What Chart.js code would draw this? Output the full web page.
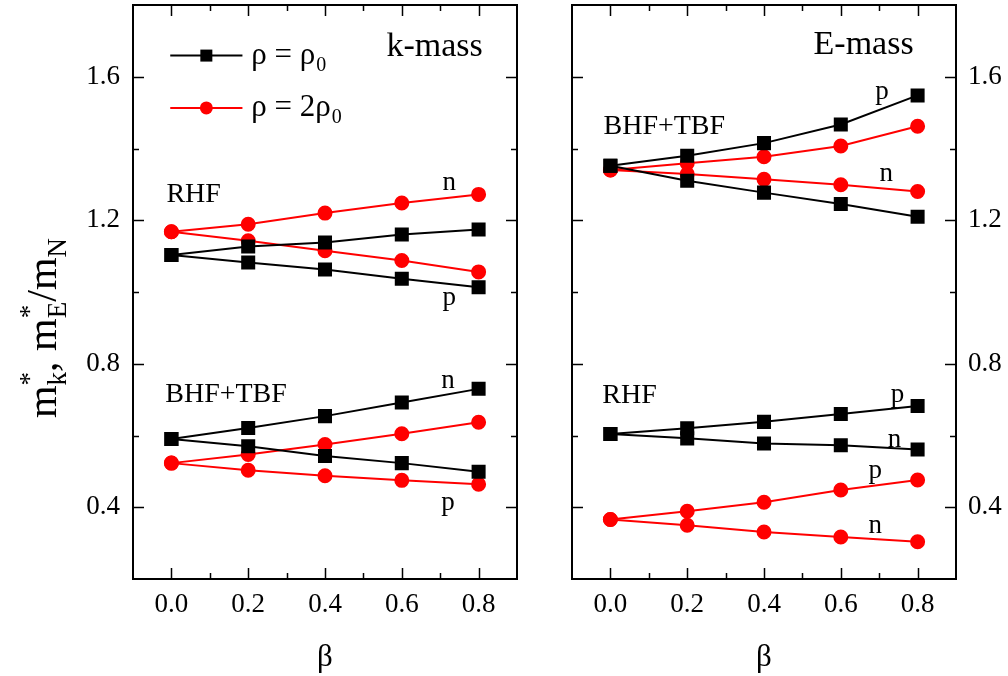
<!DOCTYPE html>
<html>
<head>
<meta charset="utf-8">
<script src="https://cdn.jsdelivr.net/npm/chart.js@4.4.1/dist/chart.umd.min.js"></script>
<style>
  html, body { margin: 0; padding: 0; background: #fff; }
  #wrap { position: relative; width: 1008px; height: 676px; }
  #kmass { position: absolute; left: 0; top: 0; }
  #emass { position: absolute; left: 520px; top: 0; }
</style>
</head>
<body>
<div id="wrap">
  <canvas id="kmass" width="520" height="676"></canvas>
  <canvas id="emass" width="488" height="676"></canvas>
</div>
<script>
// asymmetry parameter
const beta = [0.0, 0.2, 0.4, 0.6, 0.8]

// k-mass panel
const kRhfN1 = [1.103, 1.127, 1.138, 1.160, 1.174]
const kRhfP1 = [1.103, 1.082, 1.063, 1.037, 1.013]
const kRhfN2 = [1.168, 1.189, 1.220, 1.248, 1.272]
const kRhfP2 = [1.168, 1.143, 1.115, 1.088, 1.056]
const kBhfN1 = [0.590, 0.621, 0.654, 0.692, 0.730]
const kBhfP1 = [0.590, 0.570, 0.543, 0.523, 0.499]
const kBhfN2 = [0.523, 0.547, 0.575, 0.605, 0.637]
const kBhfP2 = [0.523, 0.503, 0.488, 0.475, 0.464]

// E-mass panel
const eBhfP1 = [1.352, 1.380, 1.415, 1.467, 1.548]
const eBhfN1 = [1.352, 1.310, 1.277, 1.245, 1.210]
const eBhfP2 = [1.340, 1.359, 1.377, 1.407, 1.462]
const eBhfN2 = [1.340, 1.329, 1.314, 1.299, 1.280]
const eRhfP1 = [0.604, 0.620, 0.638, 0.660, 0.682]
const eRhfN1 = [0.604, 0.592, 0.578, 0.573, 0.561]
const eRhfP2 = [0.366, 0.389, 0.414, 0.448, 0.476]
const eRhfN2 = [0.366, 0.350, 0.331, 0.317, 0.304]

const xTicks = ['0.0', '0.2', '0.4', '0.6', '0.8']
const yTicks = ['0.4', '0.8', '1.2', '1.6']

const SERIF = 'Liberation Serif'
Chart.defaults.font.family = SERIF
Chart.defaults.color = '#000'

const pts = arr => arr.map((v, i) => ({ x: beta[i], y: v }))

const black = arr => ({
  data: pts(arr), borderColor: '#000', backgroundColor: '#000',
  borderWidth: 2, pointStyle: 'rect', pointRadius: 8.5, pointHoverRadius: 8.5, tension: 0
})
const red = arr => ({
  data: pts(arr), borderColor: '#ff0000', backgroundColor: '#ff0000',
  borderWidth: 2, pointStyle: 'circle', pointRadius: 6.5, pointHoverRadius: 6.5, tension: 0
})

const font = size => size + 'px "' + SERIF + '"'

// frame, inward ticks, text labels, legend and y title
const deco = {
  id: 'deco',
  beforeDatasetsDraw(chart, args, opts) {
    const { ctx, chartArea: a, scales: { x, y } } = chart
    ctx.save()
    ctx.strokeStyle = '#000'
    ctx.lineWidth = 2
    ctx.strokeRect(a.left, a.top, a.right - a.left, a.bottom - a.top)
    ctx.lineWidth = 1.5
    ctx.beginPath()
    for (let k = 0; k <= 8; k++) {
      const px = Math.round(x.getPixelForValue(k / 10)) + 0.5
      const len = k % 2 === 0 ? 11 : 6
      ctx.moveTo(px, a.bottom); ctx.lineTo(px, a.bottom - len)
      ctx.moveTo(px, a.top); ctx.lineTo(px, a.top + len)
    }
    for (let k = 4; k <= 16; k += 2) {
      const py = Math.round(y.getPixelForValue(k / 10)) + 0.5
      const len = k % 4 === 0 ? 11 : 6
      ctx.moveTo(a.left, py); ctx.lineTo(a.left + len, py)
      ctx.moveTo(a.right, py); ctx.lineTo(a.right - len, py)
    }
    ctx.stroke()
    ctx.restore()
  },
  afterDatasetsDraw(chart, args, opts) {
    const { ctx, scales: { x, y } } = chart
    ctx.save()
    ctx.fillStyle = '#000'
    ctx.textBaseline = 'alphabetic'
    ctx.textAlign = 'left'
    opts.texts.forEach(t => {
      ctx.font = font(t.size)
      ctx.fillText(t.text, x.getPixelForValue(t.x), y.getPixelForValue(t.y))
    })

    if (opts.legend) {
      const rows = [
        { y: 1.659, color: '#000', style: 'rect', lbl: ['\u03c1 = \u03c1', '0'] },
        { y: 1.513, color: '#ff0000', style: 'circle', lbl: ['\u03c1 = 2\u03c1', '0'] }
      ]
      rows.forEach(r => {
        const x0 = x.getPixelForValue(-0.003), x1 = x.getPixelForValue(0.185)
        const py = y.getPixelForValue(r.y)
        ctx.strokeStyle = r.color
        ctx.fillStyle = r.color
        ctx.lineWidth = 2
        ctx.beginPath(); ctx.moveTo(x0, py); ctx.lineTo(x1, py); ctx.stroke()
        const mx = (x0 + x1) / 2
        if (r.style === 'rect') ctx.fillRect(mx - 6, py - 6, 12, 12)
        else { ctx.beginPath(); ctx.arc(mx, py, 6.5, 0, Math.PI * 2); ctx.fill() }
        ctx.fillStyle = '#000'
        const tx = x.getPixelForValue(0.208)
        ctx.font = font(31)
        ctx.fillText(r.lbl[0], tx, py + 8)
        const w = ctx.measureText(r.lbl[0]).width
        ctx.font = font(20)
        ctx.fillText(r.lbl[1], tx + w + 1, py + 15)
      })
    }

    if (opts.yTitle) {
      // m*_k, m*_E/m_N, written bottom to top
      const big = font(42), small = font(27)
      const parts = [
        { t: 'm' }, { sup: '*', sub: 'k' }, { t: ', ' },
        { t: 'm' }, { sup: '*', sub: 'E' }, { t: '/' },
        { t: 'm' }, { sub: 'N' }
      ]
      const widths = parts.map(p => {
        if (p.t) { ctx.font = big; return ctx.measureText(p.t).width }
        ctx.font = small
        return Math.max(p.sup ? ctx.measureText(p.sup).width : 0, ctx.measureText(p.sub).width)
      })
      const total = widths.reduce((s, w) => s + w, 0)
      ctx.translate(56, 328 + total / 2)
      ctx.rotate(-Math.PI / 2)
      let cx = 0
      parts.forEach((p, i) => {
        if (p.t) { ctx.font = big; ctx.fillText(p.t, cx, 0) }
        else {
          ctx.font = small
          if (p.sup) ctx.fillText(p.sup, cx, -18)
          ctx.fillText(p.sub, cx, 10)
        }
        cx += widths[i]
      })
    }
    ctx.restore()
  }
}

function makePanel(id, side, datasets, texts, extra) {
  const canvas = document.getElementById(id)
  const left = side === 'left'
  return new Chart(canvas.getContext('2d'), {
    type: 'line',
    data: { datasets },
    plugins: [deco],
    options: {
      responsive: false,
      animation: false,
      events: [],
      layout: {
        autoPadding: false,
        padding: left ? { left: 0, right: 3, top: 5, bottom: 0 } : { left: 52, right: 0, top: 5, bottom: 0 }
      },
      scales: {
        x: {
          type: 'linear', min: -0.1, max: 0.9,
          grid: { display: false, drawTicks: true, tickLength: 10 },
          border: { display: false },
          ticks: {
            stepSize: 0.1, autoSkip: false, maxRotation: 0, padding: 0,
            color: '#000', font: { family: SERIF, size: 27 },
            callback: v => {
              const k = Math.round(v * 10)
              return (k >= 0 && k <= 8 && k % 2 === 0) ? xTicks[k / 2] : ''
            }
          },
          title: { display: true, text: '\u03b2', color: '#000', font: { family: SERIF, size: 31 }, padding: { top: 0, bottom: 0 } },
          afterFit: s => { s.height = 97; s.paddingLeft = 0; s.paddingRight = 0 }
        },
        y: {
          type: 'linear', position: side, min: 0.2, max: 1.8,
          grid: { display: false, drawTicks: true, tickLength: left ? 13 : 12 },
          border: { display: false },
          ticks: {
            stepSize: 0.2, autoSkip: false, padding: 0,
            color: '#000', font: { family: SERIF, size: 27, lineHeight: 0.3 },
            callback: v => {
              const k = Math.round(v * 10)
              return k % 4 === 0 ? yTicks[k / 4 - 1] : ''
            }
          },
          afterFit: s => { s.width = left ? 133 : 52; s.paddingTop = 0; s.paddingBottom = 0 }
        }
      },
      plugins: {
        legend: { display: false },
        tooltip: { enabled: false },
        deco: Object.assign({ texts, legend: false, yTitle: false }, extra)
      }
    }
  })
}

makePanel('kmass', 'left',
  [black(kRhfN1), black(kRhfP1), black(kBhfN1), black(kBhfP1),
   red(kRhfN2), red(kRhfP2), red(kBhfN2), red(kBhfP2)],
  [
    { text: 'k-mass', x: 0.560, y: 1.659, size: 34 },
    { text: 'RHF', x: -0.013, y: 1.250, size: 28 },
    { text: 'n', x: 0.706, y: 1.285, size: 27 },
    { text: 'p', x: 0.706, y: 0.965, size: 27 },
    { text: 'BHF+TBF', x: -0.016, y: 0.692, size: 28 },
    { text: 'n', x: 0.703, y: 0.733, size: 27 },
    { text: 'p', x: 0.703, y: 0.392, size: 27 }
  ],
  { legend: true, yTitle: true })

makePanel('emass', 'right',
  [black(eBhfP1), black(eBhfN1), black(eRhfP1), black(eRhfN1),
   red(eBhfP2), red(eBhfN2), red(eRhfP2), red(eRhfN2)],
  [
    { text: 'E-mass', x: 0.529, y: 1.664, size: 34 },
    { text: 'BHF+TBF', x: -0.018, y: 1.441, size: 28 },
    { text: 'p', x: 0.690, y: 1.538, size: 27 },
    { text: 'n', x: 0.701, y: 1.309, size: 27 },
    { text: 'RHF', x: -0.021, y: 0.691, size: 28 },
    { text: 'p', x: 0.730, y: 0.694, size: 27 },
    { text: 'n', x: 0.722, y: 0.569, size: 27 },
    { text: 'p', x: 0.672, y: 0.481, size: 27 },
    { text: 'n', x: 0.672, y: 0.328, size: 27 }
  ],
  {})
</script>
</body>
</html>
